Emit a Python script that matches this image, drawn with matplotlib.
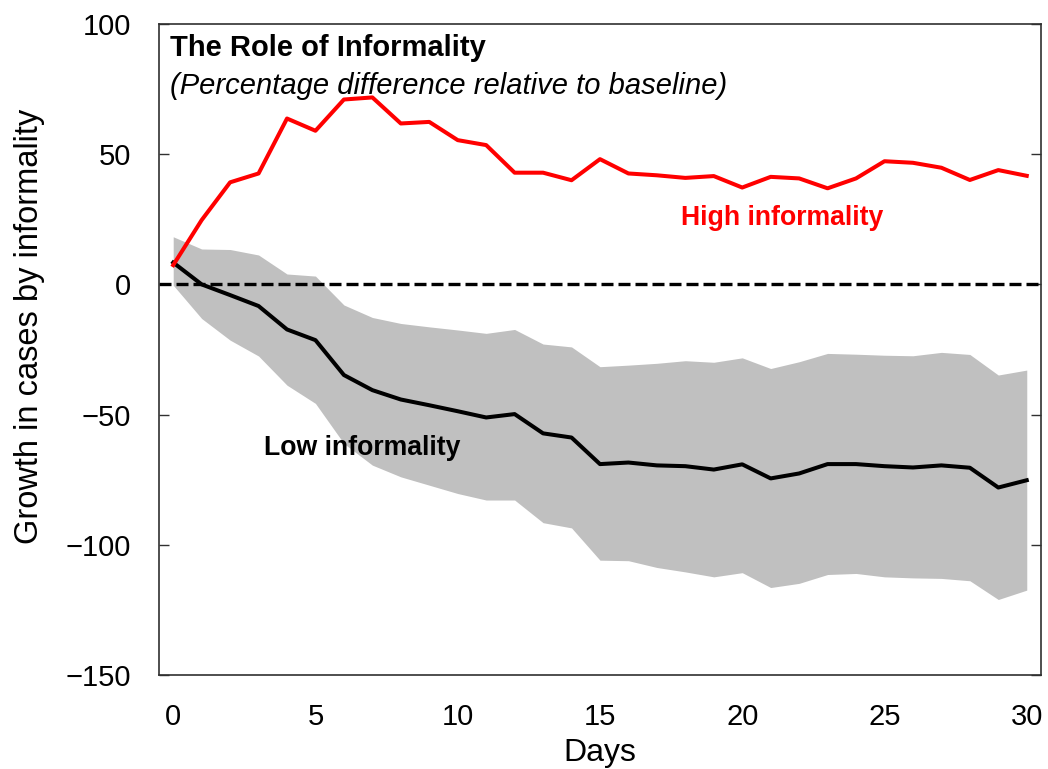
import matplotlib
matplotlib.use('Agg')
import matplotlib.pyplot as plt
import numpy as np

plt.rcParams['font.family'] = ['Liberation Sans', 'DejaVu Sans']

days = np.arange(0, 31)
high_inf = [7.4, 24.7, 39.2, 42.6, 63.7, 59.0, 71.0, 71.8, 61.8, 62.4, 55.4,
            53.5, 42.9, 42.9, 40.0, 48.1, 42.6, 41.9, 40.9, 41.6, 37.2,
            41.3, 40.7, 36.9, 40.7, 47.3, 46.7, 44.8, 40.1, 43.9, 41.7]
low_inf = [8.4, 0.0, -4.1, -8.3, -17.3, -21.4, -34.8, -40.6, -44.2, -46.4, -48.7,
           -51.1, -49.8, -57.2, -58.8, -69.0, -68.4, -69.5, -69.8, -71.1, -69.1,
           -74.5, -72.6, -69.0, -69.0, -69.8, -70.3, -69.5, -70.4, -78.0, -75.2]
low_upper = [18.3, 13.6, 13.4, 11.3, 4.0, 3.2, -7.9, -12.7, -15.0, -16.3, -17.5,
             -18.8, -17.3, -22.9, -24.0, -31.6, -31.0, -30.3, -29.3, -29.9, -28.2,
             -32.3, -29.7, -26.5, -26.8, -27.2, -27.4, -26.1, -26.9, -34.8, -32.9]
low_lower = [-0.3, -13.1, -21.4, -27.5, -38.7, -45.7, -61.1, -69.4, -73.9, -77.1, -80.3,
             -82.8, -82.8, -91.5, -93.5, -105.9, -106.1, -108.7, -110.4, -112.3, -110.7,
             -116.4, -114.8, -111.4, -111.0, -112.3, -112.7, -112.9, -113.8, -121.0, -117.4]

fig = plt.figure(figsize=(10.48, 7.69), dpi=100)
ax = fig.add_axes([0.1517, 0.1222, 0.8416, 0.8466])

ax.fill_between(days, low_lower, low_upper, color='#c0c0c0', linewidth=0)
ax.axhline(0, color='black', linewidth=2.4, linestyle=(0, (3.6, 1.5)))
ax.plot(days, low_inf, color='black', linewidth=2.9)
ax.plot(days, high_inf, color='#ff0000', linewidth=2.9)

ax.set_xlim(-0.5, 30.5)
ax.set_ylim(-150, 100)
ax.set_xticks([0, 5, 10, 15, 20, 25, 30])
ax.set_yticks([-150, -100, -50, 0, 50, 100])
ax.set_yticklabels(['\u2212150', '\u2212100', '\u221250', '0', '50', '100'])
ax.tick_params(axis='y', direction='in', length=7, width=1, labelsize=21,
               pad=20, right=True, color='#303030')
ax.tick_params(axis='x', length=0, labelsize=21, pad=20)
for s in ax.spines.values():
    s.set_color('#303030')
    s.set_linewidth(1.2)

ax.set_xlabel('Days', fontsize=23, labelpad=5)
ax.set_ylabel('Growth in cases by informality', fontsize=23.5)
ax.yaxis.set_label_coords(-0.129, 0.535)

ax.text(0.0125, 0.963, 'The Role of Informality', transform=ax.transAxes,
        fontsize=21, fontweight='bold', va='center', ha='left')
ax.text(0.0125, 0.905, '(Percentage difference relative to baseline)',
        transform=ax.transAxes, fontsize=21, style='italic', va='center', ha='left')
ax.text(21.4, 25.5, 'High informality', color='#ff0000', fontsize=19.2,
        fontweight='bold', ha='center', va='center')
ax.text(6.63, -62.9, 'Low informality', color='black', fontsize=19.2,
        fontweight='bold', ha='center', va='center')

plt.savefig('out.png', dpi=100)
